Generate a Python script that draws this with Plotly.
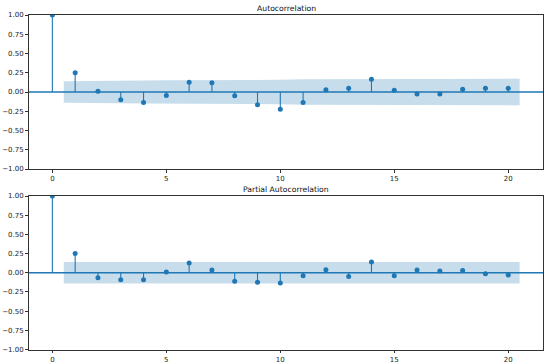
import plotly.graph_objects as go

lags = list(range(0, 21))
acf_vals = [1.0, 0.25, 0.01, -0.10, -0.135, -0.045, 0.125, 0.12, -0.05, -0.165, -0.225,
            -0.135, 0.03, 0.048, 0.165, 0.022, -0.026, -0.026, 0.035, 0.048, 0.048]
pacf_vals = [1.0, 0.25, -0.065, -0.09, -0.09, 0.01, 0.127, 0.035, -0.11, -0.125, -0.135,
             -0.04, 0.04, -0.05, 0.14, -0.04, 0.035, 0.022, 0.03, -0.013, -0.03]
# confidence band half-widths for lags 1..20
acf_band = [0.139, 0.147, 0.147, 0.148, 0.151, 0.151, 0.153, 0.155, 0.155, 0.158,
            0.164, 0.167, 0.167, 0.167, 0.170, 0.170, 0.170, 0.171, 0.171, 0.171]
pacf_band = [0.139] * 20
titles = ["Autocorrelation", "Partial Autocorrelation"]
xticks = [0, 5, 10, 15, 20]
yticks = [-1.0, -0.75, -0.5, -0.25, 0.0, 0.25, 0.5, 0.75, 1.0]

C0 = "#1f77b4"
W, H = 550, 363
xdom = [29 / W, 543 / W]
ydoms = [[1 - 169 / H, 1 - 15 / H], [1 - 349.5 / H, 1 - 196 / H]]

fig = go.Figure()

for i, (vals, band) in enumerate([(acf_vals, acf_band), (pacf_vals, pacf_band)]):
    xa = "x" if i == 0 else "x2"
    ya = "y" if i == 0 else "y2"
    bx = [float(k) for k in lags[1:]]
    bx[0] -= 0.5
    bx[-1] += 0.5
    # band
    fig.add_trace(go.Scatter(x=bx + bx[::-1], y=band + [-b for b in band[::-1]],
                             fill="toself", fillcolor="rgba(31,119,180,0.25)",
                             line=dict(width=0), mode="lines", hoverinfo="skip",
                             showlegend=False, xaxis=xa, yaxis=ya))
    # zero line
    fig.add_trace(go.Scatter(x=[-1.025, 21.525], y=[0, 0], mode="lines",
                             line=dict(color=C0, width=1.3), showlegend=False,
                             xaxis=xa, yaxis=ya))
    # stems
    sx, sy = [], []
    for k, v in zip(lags, vals):
        sx += [k, k, None]
        sy += [0, v, None]
    fig.add_trace(go.Scatter(x=sx, y=sy, mode="lines", line=dict(color=C0, width=1.1),
                             showlegend=False, xaxis=xa, yaxis=ya))
    fig.add_trace(go.Scatter(x=lags, y=vals, mode="markers",
                             marker=dict(color=C0, size=5), showlegend=False,
                             xaxis=xa, yaxis=ya))

axis_common = dict(showline=True, linecolor="#333", linewidth=0.8, mirror=True,
                   ticks="outside", ticklen=3, tickwidth=0.8, tickcolor="#333",
                   showgrid=False, zeroline=False, automargin=False,
                   tickfont=dict(family="DejaVu Sans", size=7, color="#222"))

fig.update_layout(
    width=W, height=H, margin=dict(l=0, r=0, t=0, b=0, pad=0),
    paper_bgcolor="white", plot_bgcolor="white",
    xaxis=dict(domain=xdom, anchor="y", range=[-1.025, 21.525], tickvals=xticks, **axis_common),
    yaxis=dict(domain=ydoms[0], anchor="x", range=[-1, 1], tickvals=yticks, tickformat=".2f",
               **axis_common),
    xaxis2=dict(domain=xdom, anchor="y2", range=[-1.025, 21.525], tickvals=xticks, **axis_common),
    yaxis2=dict(domain=ydoms[1], anchor="x2", range=[-1, 1], tickvals=yticks, tickformat=".2f",
                **axis_common),
    annotations=[
        dict(text=titles[0], x=(xdom[0] + xdom[1]) / 2, y=1 - 8.5 / H, xref="paper", yref="paper",
             showarrow=False, font=dict(family="DejaVu Sans", size=7.7, color="#111"),
             xanchor="center", yanchor="middle"),
        dict(text=titles[1], x=(xdom[0] + xdom[1]) / 2, y=1 - 189.5 / H, xref="paper", yref="paper",
             showarrow=False, font=dict(family="DejaVu Sans", size=7.7, color="#111"),
             xanchor="center", yanchor="middle"),
    ],
)

fig.write_html("out.html", config={"displayModeBar": False},
               post_script="document.body.style.margin='0px';")
